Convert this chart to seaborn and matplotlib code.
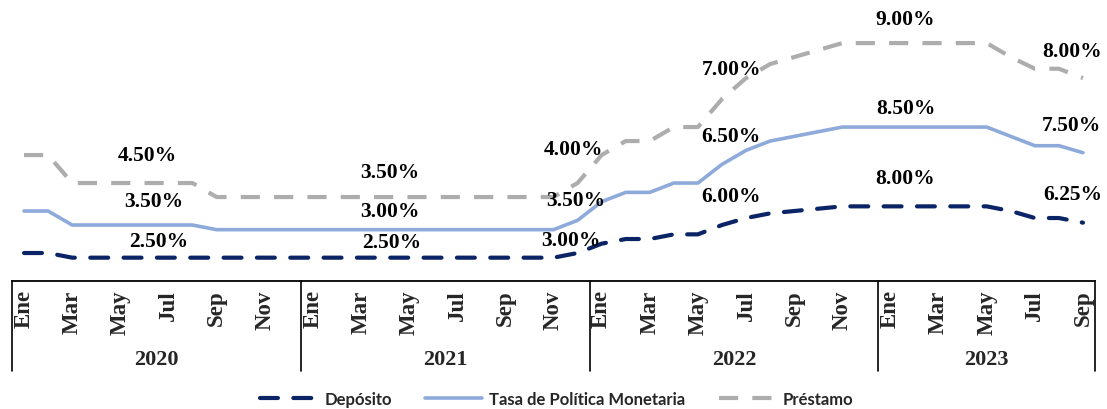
import matplotlib
matplotlib.use("Agg")
import matplotlib.pyplot as plt
import matplotlib.transforms as mtransforms
import numpy as np
import pandas as pd
import seaborn as sns

# ---------------- data (monthly, Jan 2020 - Sep 2023) ----------------
years = ["2020", "2021", "2022", "2023"]
months = ["Ene", "Feb", "Mar", "Abr", "May", "Jun", "Jul", "Ago", "Sep", "Oct", "Nov", "Dic"]

deposito = [
    3.00, 3.00, 2.50, 2.50, 2.50, 2.50, 2.50, 2.50, 2.50, 2.50, 2.50, 2.50,
    2.50, 2.50, 2.50, 2.50, 2.50, 2.50, 2.50, 2.50, 2.50, 2.50, 2.50, 3.00,
    4.00, 4.50, 4.50, 5.00, 5.00, 6.00, 6.75, 7.25, 7.50, 7.75, 8.00, 8.00,
    8.00, 8.00, 8.00, 8.00, 8.00, 7.50, 6.75, 6.75, 6.25,
]
tpm = [
    4.50, 4.50, 3.50, 3.50, 3.50, 3.50, 3.50, 3.50, 3.00, 3.00, 3.00, 3.00,
    3.00, 3.00, 3.00, 3.00, 3.00, 3.00, 3.00, 3.00, 3.00, 3.00, 3.00, 3.50,
    4.50, 5.00, 5.00, 5.50, 5.50, 6.50, 7.25, 7.75, 8.00, 8.25, 8.50, 8.50,
    8.50, 8.50, 8.50, 8.50, 8.50, 8.00, 7.75, 7.75, 7.50,
]
prestamo = [
    6.00, 6.00, 4.50, 4.50, 4.50, 4.50, 4.50, 4.50, 3.50, 3.50, 3.50, 3.50,
    3.50, 3.50, 3.50, 3.50, 3.50, 3.50, 3.50, 3.50, 3.50, 3.50, 3.50, 4.00,
    5.00, 5.50, 5.50, 6.00, 6.00, 7.00, 7.75, 8.25, 8.50, 8.75, 9.00, 9.00,
    9.00, 9.00, 9.00, 9.00, 9.00, 8.50, 8.25, 8.25, 8.00,
]
series_names = ["Depósito", "Tasa de Política Monetaria", "Préstamo"]

# months whose values are written on the chart
label_months = [5, 15, 23, 29, 37, 44]

# ---------------- layout / style ----------------
W, H = 1107, 410
colors = {"Depósito": "#0B2466", "Tasa de Política Monetaria": "#8EAADB", "Préstamo": "#ADADAD"}
widths = {"Depósito": 3.0, "Tasa de Política Monetaria": 2.6, "Préstamo": 3.0}
dashes = {"Depósito": (4.3, 3.7), "Tasa de Política Monetaria": "", "Préstamo": (4.6, 3.4)}
capstyle = {"Depósito": "round", "Tasa de Política Monetaria": "round", "Préstamo": "butt"}
# pixel offsets (up = positive) for value labels: per label month, order (Depósito, TPM, Préstamo)
label_offsets = [
    [(14, 17), (9, 24), (3, 28)],
    [(7, 16), (5, 19), (5, 25)],
    [(-7, 13), (-2, 20), (-4, 34)],
    [(9, 29), (9, 28), (10, 30)],
    [(-9, 28), (-9, 19), (-9, 24)],
    [(-10, 29), (-12, 28), (-11, 27)],
]

sns.set_style("white")
plt.rcParams["font.family"] = ["Liberation Serif", "DejaVu Serif"]

n = len(deposito)
idx = np.arange(n)
values = [np.array(deposito), np.array(tpm), np.array(prestamo)]
stacked = np.cumsum(np.vstack(values), axis=0)  # stacked line chart (as in original)

df = pd.DataFrame({
    "mes": np.tile(idx, 3),
    "serie": np.repeat(series_names, n),
    "valor": stacked.ravel(),
})

fig = plt.figure(figsize=(W / 100, H / 100), dpi=100)
ax_bottom_px = 282
ax = fig.add_axes([12 / W, (H - ax_bottom_px) / H, 1083 / W, ax_bottom_px / H])

for name in series_names:
    sub = df[df["serie"] == name]
    sns.lineplot(data=sub, x="mes", y="valor", ax=ax, color=colors[name],
                 linewidth=widths[name], label=name, legend=False)
    line = ax.lines[-1]
    if dashes[name]:
        line.set_dashes(dashes[name])
    line.set_dash_capstyle(capstyle[name])
    line.set_solid_capstyle("round")

ax.set_xlim(-0.5, n - 0.5)
ax.set_ylim(0, ax_bottom_px / 9.33)
ax.set_yticks([])
ax.set_xlabel("")
ax.set_ylabel("")
for s in ["top", "right", "left"]:
    ax.spines[s].set_visible(False)
ax.spines["bottom"].set_color("black")
ax.spines["bottom"].set_linewidth(1.3)

# month tick labels (every other month)
tick_pos = idx[::2]
tick_lab = [months[i % 12] for i in tick_pos]
ax.set_xticks(tick_pos)
ax.set_xticklabels(tick_lab, rotation=90, fontsize=16.5, fontweight="bold",
                   va="top", ha="center")
ax.tick_params(axis="x", length=0, pad=6)

# year separators and year labels
trans = mtransforms.blended_transform_factory(ax.transData, ax.transAxes)
sep_bottom = -(372 - ax_bottom_px) / ax_bottom_px
bounds = [-0.5 + 12 * k for k in range(len(years))] + [n - 0.5]
for b in bounds:
    ax.plot([b, b], [0, sep_bottom], color="black", lw=1.2, transform=trans, clip_on=False)
for k, yr in enumerate(years):
    center = (bounds[k] + bounds[k + 1]) / 2
    ax.text(center, -(360 - ax_bottom_px) / ax_bottom_px, yr, transform=trans,
            ha="center", va="center", fontsize=16, fontweight="bold")

# value labels
for g, m in enumerate(label_months):
    for s_i, vals in enumerate(values):
        ax.annotate(f"{vals[m]:.2f}%", xy=(m, stacked[s_i, m]),
                    xytext=label_offsets[g][s_i], textcoords="offset pixels",
                    ha="center", va="center", fontsize=15.5, fontweight="bold",
                    color="black", annotation_clip=False)

# legend
handles, labels = ax.get_legend_handles_labels()
fig.legend(handles, labels, loc="center", bbox_to_anchor=(0.503, 10 / H), ncol=3,
           frameon=False, handlelength=3.4, handletextpad=0.45, columnspacing=2.0,
           prop={"family": ["Lato", "DejaVu Sans"], "weight": "bold", "size": 12})

fig.savefig("out.png", dpi=100)
